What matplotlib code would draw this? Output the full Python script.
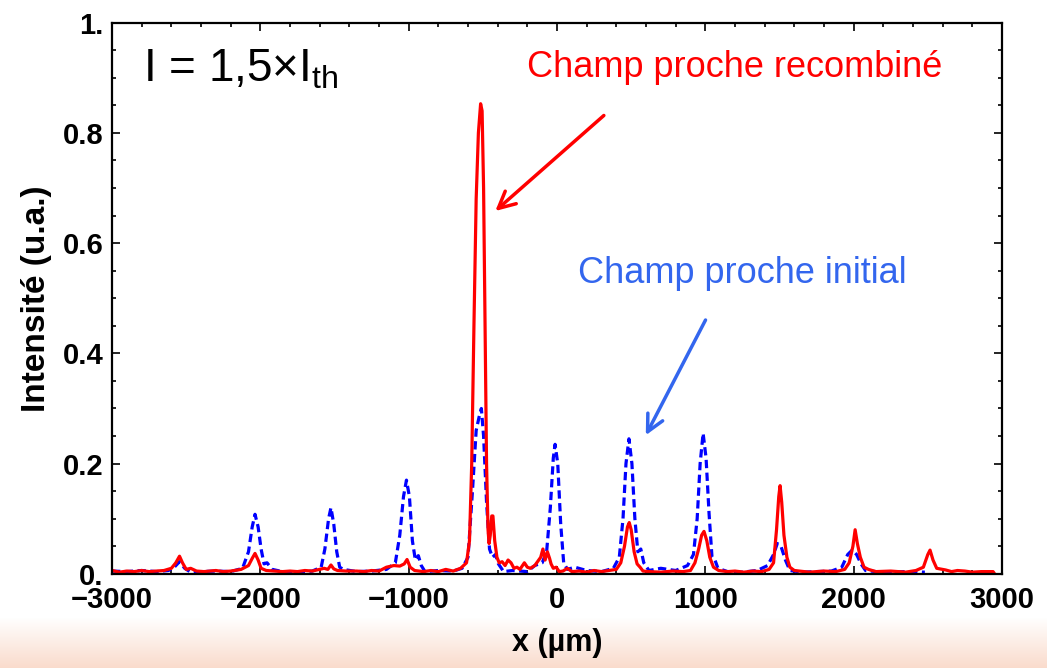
# Profil d'intensite en champ proche : initial vs recombine
import numpy as np
import matplotlib
matplotlib.use('Agg')
import matplotlib.pyplot as plt

plt.rcParams['font.family'] = ['Liberation Sans', 'DejaVu Sans']
plt.rcParams['mathtext.default'] = 'regular'

# Champ proche initial (tirets bleus)
x_init = [-3000, -2900, -2800, -2700, -2620, -2580, -2545, -2510, -2470, -2400,
          -2300, -2200, -2120, -2080, -2055, -2036, -2015, -1995, -1975, -1955,
          -1920, -1850, -1750, -1650, -1590, -1565, -1540, -1524, -1505, -1485,
          -1465, -1440, -1350, -1250, -1150, -1090, -1060, -1035, -1015, -995,
          -975, -955, -935, -915, -890, -800, -700, -640, -600, -570,
          -545, -525, -510, -495, -475, -455, -435, -415, -395, -360,
          -300, -250, -200, -150, -100, -70, -45, -25, -13, 5,
          25, 45, 70, 120, 200, 300, 380, 420, 445, 465,
          485, 505, 525, 545, 565, 585, 620, 700, 800, 880,
          920, 945, 965, 985, 1005, 1025, 1045, 1065, 1085, 1150,
          1250, 1350, 1420, 1460, 1485, 1510, 1540, 1570, 1650, 1750,
          1850, 1920, 1960, 1990, 2020, 2050, 2080, 2150, 2250, 2350, 2480]
i_init = [0.005, 0.004, 0.006, 0.004, 0.006, 0.012, 0.022, 0.010, 0.003, 0.004,
          0.005, 0.004, 0.010, 0.040, 0.085, 0.108, 0.085, 0.045, 0.018, 0.020,
          0.008, 0.004, 0.003, 0.005, 0.012, 0.045, 0.100, 0.120, 0.090, 0.040,
          0.012, 0.008, 0.004, 0.005, 0.008, 0.020, 0.070, 0.140, 0.170, 0.140,
          0.060, 0.025, 0.033, 0.015, 0.004, 0.006, 0.005, 0.010, 0.030, 0.150,
          0.260, 0.285, 0.300, 0.250, 0.130, 0.045, 0.030, 0.035, 0.018, 0.004,
          0.006, 0.005, 0.004, 0.015, 0.020, 0.040, 0.120, 0.210, 0.235, 0.200,
          0.090, 0.020, 0.008, 0.012, 0.006, 0.004, 0.010, 0.030, 0.100, 0.200,
          0.245, 0.200, 0.100, 0.040, 0.045, 0.020, 0.006, 0.010, 0.006, 0.015,
          0.035, 0.100, 0.200, 0.255, 0.210, 0.110, 0.030, 0.025, 0.010, 0.004,
          0.003, 0.006, 0.015, 0.035, 0.055, 0.050, 0.025, 0.006, 0.003, 0.004,
          0.005, 0.012, 0.035, 0.043, 0.035, 0.018, 0.006, 0.004, 0.003, 0.004, 0.003]

# Champ proche recombine (trait plein rouge)
x_rec = [-3000, -2950, -2900, -2850, -2800, -2750, -2700, -2650, -2600, -2570,
         -2545, -2525, -2500, -2470, -2430, -2380, -2300, -2250, -2200, -2130,
         -2080, -2055, -2036, -2015, -1995, -1960, -1900, -1850, -1800, -1750,
         -1700, -1650, -1600, -1570, -1545, -1524, -1505, -1480, -1420, -1350,
         -1300, -1250, -1200, -1150, -1100, -1060, -1030, -1011, -990, -960,
         -900, -850, -800, -750, -700, -650, -610, -590, -575, -560,
         -545, -530, -515, -505, -495, -485, -475, -465, -458, -450,
         -440, -432, -420, -405, -390, -370, -350, -330, -310, -290,
         -270, -250, -220, -200, -180, -150, -110, -95, -80, -65,
         -50, -40, -25, -5, 15, 40, 70, 100, 150, 200,
         250, 300, 350, 400, 430, 455, 475, 487, 500, 520,
         540, 560, 580, 620, 700, 780, 850, 900, 930, 955,
         975, 991, 1010, 1030, 1055, 1090, 1150, 1200, 1260, 1320,
         1380, 1430, 1460, 1480, 1495, 1504, 1515, 1530, 1550, 1570,
         1600, 1700, 1800, 1880, 1940, 1970, 1995, 2010, 2025, 2045,
         2070, 2100, 2150, 2250, 2350, 2420, 2470, 2500, 2515, 2535,
         2560, 2620, 2660, 2700, 2750, 2800, 2860, 2940, 2950]
i_rec = [0.006, 0.003, 0.005, 0.004, 0.006, 0.004, 0.005, 0.006, 0.010, 0.020,
         0.032, 0.020, 0.008, 0.010, 0.005, 0.004, 0.006, 0.004, 0.005, 0.008,
         0.015, 0.028, 0.037, 0.025, 0.010, 0.006, 0.005, 0.004, 0.005, 0.004,
         0.006, 0.005, 0.008, 0.010, 0.008, 0.016, 0.009, 0.006, 0.005, 0.005,
         0.004, 0.006, 0.005, 0.012, 0.015, 0.014, 0.018, 0.026, 0.012, 0.006,
         0.004, 0.006, 0.004, 0.008, 0.005, 0.010, 0.020, 0.060, 0.200, 0.450,
         0.680, 0.800, 0.853, 0.840, 0.700, 0.450, 0.200, 0.080, 0.055, 0.070,
         0.105, 0.105, 0.060, 0.030, 0.020, 0.022, 0.015, 0.025, 0.020, 0.010,
         0.012, 0.008, 0.020, 0.012, 0.010, 0.015, 0.030, 0.045, 0.025, 0.040,
         0.028, 0.018, 0.010, 0.012, 0.004, 0.005, 0.010, 0.004, 0.005, 0.003,
         0.006, 0.004, 0.006, 0.008, 0.020, 0.050, 0.085, 0.093, 0.080, 0.040,
         0.018, 0.012, 0.005, 0.004, 0.003, 0.005, 0.004, 0.006, 0.020, 0.045,
         0.070, 0.077, 0.060, 0.030, 0.012, 0.006, 0.004, 0.005, 0.003, 0.005,
         0.004, 0.008, 0.020, 0.080, 0.140, 0.160, 0.130, 0.070, 0.030, 0.012,
         0.006, 0.003, 0.005, 0.004, 0.008, 0.020, 0.050, 0.080, 0.055, 0.030,
         0.012, 0.008, 0.004, 0.005, 0.003, 0.006, 0.012, 0.035, 0.043, 0.025,
         0.010, 0.007, 0.004, 0.006, 0.005, 0.003, 0.004, 0.004, 0.000]

x_ticks = [-3000, -2000, -1000, 0, 1000, 2000, 3000]
x_ticklabels = ['\u22123000', '\u22122000', '\u22121000', '0', '1000', '2000', '3000']
y_ticks = [0, 0.2, 0.4, 0.6, 0.8, 1.0]
y_ticklabels = ['0.', '0.2', '0.4', '0.6', '0.8', '1.']

fig = plt.figure(figsize=(10.47, 6.68), dpi=100)

# degrade orange pale en bas de la diapo
bg = fig.add_axes([0, 0, 1, 0.075], zorder=-1)
grad = np.linspace(0, 1, 100).reshape(-1, 1)
top_c = np.array([1.0, 1.0, 1.0])
bot_c = np.array([0.98, 0.86, 0.80])
img = top_c * grad[..., None] + bot_c * (1 - grad[..., None])
bg.imshow(img, aspect='auto', origin='lower', extent=[0, 1, 0, 1])
bg.axis('off')

ax = fig.add_axes([0.107, 0.141, 0.850, 0.825])
ax.patch.set_alpha(0)

ax.plot(x_init, i_init, color='#0000ff', lw=2.3, ls=(0, (2.6, 1.4)))
ax.plot(x_rec, i_rec, color='#ff0000', lw=2.3)

ax.set_xlim(-3000, 3000)
ax.set_ylim(0, 1.0)
ax.set_xticks(x_ticks)
ax.set_xticklabels(x_ticklabels)
ax.set_yticks(y_ticks)
ax.set_yticklabels(y_ticklabels)
ax.set_xticks(np.arange(-3000, 3001, 200), minor=True)
ax.set_yticks(np.arange(0, 1.001, 0.05), minor=True)
ax.tick_params(which='both', direction='in', top=True, right=True, width=1.2)
ax.tick_params(which='major', length=6)
ax.tick_params(which='minor', length=3)
ax.tick_params(axis='x', pad=9)
ax.tick_params(axis='y', pad=6)
for lab in ax.get_xticklabels() + ax.get_yticklabels():
    lab.set_fontsize(21)
    lab.set_fontweight('bold')
for s in ax.spines.values():
    s.set_linewidth(1.6)

ax.set_xlabel('x (\u00b5m)', fontsize=22, fontweight='bold', labelpad=10)
ax.set_ylabel('Intensit\u00e9 (u.a.)', fontsize=24, fontweight='bold', labelpad=8)

ax.text(-2790, 0.915, r'I = 1,5$\times$I$_{th}$', fontsize=33,
        va='center', ha='left')

ax.text(1200, 0.918, 'Champ proche recombin\u00e9', color='#ff0000',
        fontsize=26, ha='center', va='center')
ax.annotate('', xy=(-430, 0.655), xytext=(330, 0.835),
            arrowprops=dict(arrowstyle='->', color='#ff0000', lw=2.5,
                            mutation_scale=30))

ax.text(1250, 0.545, 'Champ proche initial', color='#3366ee',
        fontsize=26, ha='center', va='center')
ax.annotate('', xy=(590, 0.247), xytext=(1010, 0.465),
            arrowprops=dict(arrowstyle='->', color='#3366ee', lw=2.5,
                            mutation_scale=30))

fig.savefig('out.png', dpi=100)
